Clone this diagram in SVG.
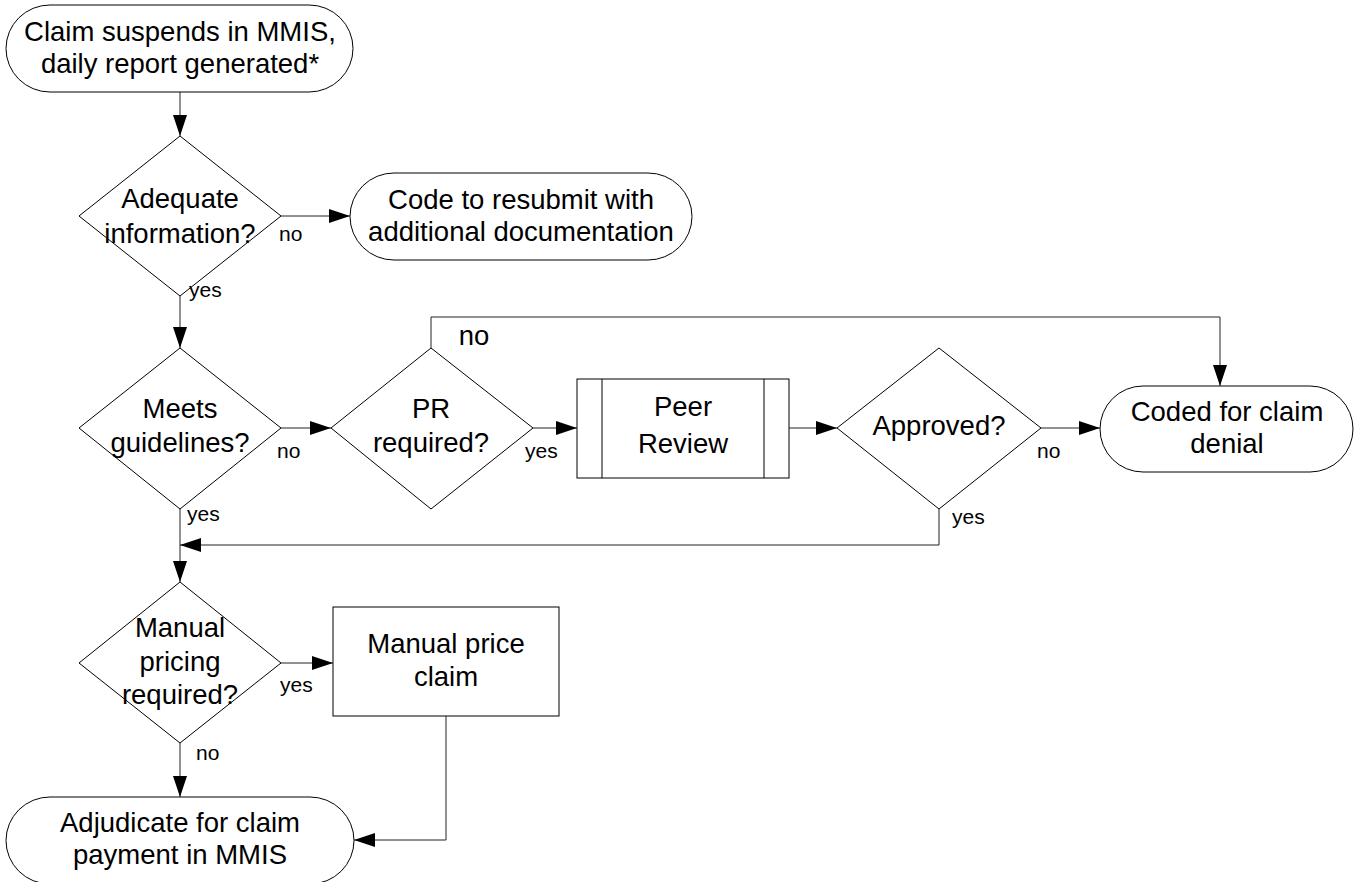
<svg xmlns="http://www.w3.org/2000/svg" width="1357" height="882" viewBox="0 0 1357 882">
<style>
.shape{fill:#fff;stroke:#000;stroke-width:1}
.conn{fill:none;stroke:#222;stroke-width:1}
.t{font-family:"Liberation Sans",Arial,sans-serif;font-size:27.5px;text-anchor:middle;fill:#000}
.s{font-family:"Liberation Sans",Arial,sans-serif;font-size:21px;text-anchor:start;fill:#000}
</style>
<defs>
<marker id="arr" viewBox="0 0 21 14" refX="21" refY="7" markerWidth="21" markerHeight="14" markerUnits="userSpaceOnUse" orient="auto">
<path d="M0,0 L21,7 L0,14 z" fill="#000"/>
</marker>
</defs>
<rect width="1357" height="882" fill="#fff"/>

<g id="start">
<rect class="shape" x="6" y="5" width="347" height="87" rx="44" ry="43.5"/>
<text class="t" x="180" y="41">Claim suspends in MMIS,</text>
<text class="t" x="180" y="73">daily report generated*</text>
</g>

<g id="adequate">
<polygon class="shape" points="180,136 281,216 180,296 79,216"/>
<text class="t" x="180" y="208">Adequate</text>
<text class="t" x="180" y="243">information?</text>
</g>

<g id="resubmit">
<rect class="shape" x="350" y="173" width="342" height="87" rx="44" ry="43.5"/>
<text class="t" x="521" y="209">Code to resubmit with</text>
<text class="t" x="521" y="241">additional documentation</text>
</g>

<g id="meets">
<polygon class="shape" points="180,348 281,428 180,509 79,428"/>
<text class="t" x="180" y="418">Meets</text>
<text class="t" x="180" y="452">guidelines?</text>
</g>

<g id="pr">
<polygon class="shape" points="431,348 533,428 431,509 331,428"/>
<text class="t" x="431" y="418">PR</text>
<text class="t" x="431" y="452">required?</text>
</g>

<g id="peer">
<rect class="shape" x="577" y="379" width="212" height="99"/>
<line class="shape" x1="602" y1="379" x2="602" y2="478"/>
<line class="shape" x1="764" y1="379" x2="764" y2="478"/>
<text class="t" x="683" y="416">Peer</text>
<text class="t" x="683" y="453">Review</text>
</g>

<g id="approved">
<polygon class="shape" points="939,348 1041,428 939,509 837,428"/>
<text class="t" x="939" y="435">Approved?</text>
</g>

<g id="denial">
<rect class="shape" x="1100" y="386" width="253" height="86" rx="43" ry="43"/>
<text class="t" x="1227" y="421">Coded for claim</text>
<text class="t" x="1227" y="453">denial</text>
</g>

<g id="manual">
<polygon class="shape" points="180,582 281,663 180,743 79,663"/>
<text class="t" x="180" y="637">Manual</text>
<text class="t" x="180" y="671">pricing</text>
<text class="t" x="180" y="704">required?</text>
</g>

<g id="price">
<rect class="shape" x="333" y="607" width="226" height="109"/>
<text class="t" x="446" y="653">Manual price</text>
<text class="t" x="446" y="686">claim</text>
</g>

<g id="adjudicate">
<rect class="shape" x="6" y="797" width="348" height="87" rx="44" ry="43.5"/>
<text class="t" x="180" y="832">Adjudicate for claim</text>
<text class="t" x="180" y="864">payment in MMIS</text>
</g>

<g id="connectors">
<path class="conn" d="M180,92 V136" marker-end="url(#arr)"/>
<path class="conn" d="M281,216 H350" marker-end="url(#arr)"/>
<path class="conn" d="M180,296 V348" marker-end="url(#arr)"/>
<path class="conn" d="M281,428 H331" marker-end="url(#arr)"/>
<path class="conn" d="M533,428 H577" marker-end="url(#arr)"/>
<path class="conn" d="M789,428 H837" marker-end="url(#arr)"/>
<path class="conn" d="M1041,428 H1100" marker-end="url(#arr)"/>
<path class="conn" d="M431,348 V317 H1220 V386" marker-end="url(#arr)"/>
<path class="conn" d="M939,509 V545 H180" marker-end="url(#arr)"/>
<path class="conn" d="M180,509 V582" marker-end="url(#arr)"/>
<path class="conn" d="M281,663 H333" marker-end="url(#arr)"/>
<path class="conn" d="M180,743 V797" marker-end="url(#arr)"/>
<path class="conn" d="M446,716 V840 H354" marker-end="url(#arr)"/>
<text class="s" x="279" y="241">no</text>
<text class="s" x="189" y="297">yes</text>
<text class="s" x="277" y="458">no</text>
<text class="s" x="187" y="521">yes</text>
<text class="s" x="525" y="458">yes</text>
<text class="t" x="474" y="345">no</text>
<text class="s" x="1037" y="458">no</text>
<text class="s" x="952" y="524">yes</text>
<text class="s" x="280" y="692">yes</text>
<text class="s" x="196" y="760">no</text>
</g>
</svg>
